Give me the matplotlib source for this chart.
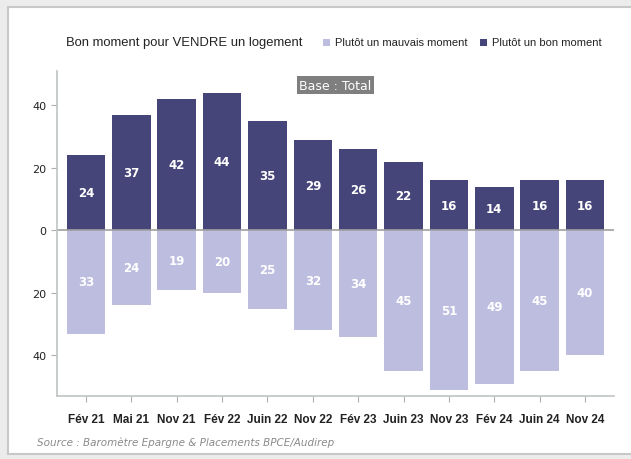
import matplotlib.pyplot as plt
from matplotlib.patches import Rectangle
import numpy as np

# Survey waves and shares (%)
periods = ['Fév 21', 'Mai 21', 'Nov 21', 'Fév 22', 'Juin 22', 'Nov 22',
           'Fév 23', 'Juin 23', 'Nov 23', 'Fév 24', 'Juin 24', 'Nov 24']
bon_moment = [24, 37, 42, 44, 35, 29, 26, 22, 16, 14, 16, 16]
mauvais_moment = [33, 24, 19, 20, 25, 32, 34, 45, 51, 49, 45, 40]

dark = '#45457a'
light = '#bdbde0'

W, H = 631, 460
fig = plt.figure(figsize=(W / 100, H / 100), dpi=100)
fig.patch.set_facecolor('#ececec')

# white card like the screenshot
fig.patches.append(Rectangle((8 / W, 5 / H), 1, (H - 13) / H, transform=fig.transFigure,
                             facecolor='white', edgecolor='#c8c8c8', linewidth=1.5, zorder=-10))

ax = fig.add_axes([57 / W, (H - 397) / H, (614 - 57) / W, (397 - 72) / H])
ax.set_zorder(5)
ax.patch.set_alpha(0)

x = np.arange(len(periods))
ax.bar(x, bon_moment, width=0.85, color=dark)
ax.bar(x, [-v for v in mauvais_moment], width=0.85, color=light)

for i, (b, m) in enumerate(zip(bon_moment, mauvais_moment)):
    ax.text(i, b / 2, str(b), ha='center', va='center', color='white',
            fontsize=8.5, fontweight='bold')
    ax.text(i, -m / 2, str(m), ha='center', va='center', color='white',
            fontsize=8.5, fontweight='bold')

ax.axhline(0, color='#a0a0a0', linewidth=1.2)
ax.set_xlim(-0.64, 11.64)
ax.set_ylim(-53, 51)
ax.set_xticks(x)
ax.set_xticklabels(periods, fontsize=8.5, fontweight='bold', color='#222222',
                   family='Liberation Sans')
ax.set_yticks([-40, -20, 0, 20, 40])
ax.set_yticklabels(['40', '20', '0', '20', '40'], fontsize=8, color='#222222')
ax.tick_params(axis='both', color='#b0b0b0', length=4)
ax.tick_params(axis='x', pad=8)
for s in ['top', 'right']:
    ax.spines[s].set_visible(False)
for s in ['left', 'bottom']:
    ax.spines[s].set_color('#c0c4c4')
    ax.spines[s].set_linewidth(1.2)

# title and legend on one line
fig.text(66 / W, 1 - 43 / H, 'Bon moment pour VENDRE un logement',
         fontsize=9.4, color='#222222', va='center', family='Liberation Sans')
for sx, label, c in [(326, 'Plutôt un mauvais moment', light),
                     (483, 'Plutôt un bon moment', dark)]:
    fig.patches.append(Rectangle(((sx - 3.5) / W, 1 - 46.5 / H), 7 / W, 7 / H,
                                 transform=fig.transFigure, facecolor=c, edgecolor='none'))
    fig.text((sx + 9) / W, 1 - 43 / H, label, fontsize=8, color='#222222',
             va='center', family='Liberation Sans')

ax.text(0.5, 1 - (86 - 72) / (397 - 72), 'Base : Total', transform=ax.transAxes,
        ha='center', va='center', fontsize=9, color='white',
        bbox=dict(boxstyle='square,pad=0.18', facecolor='#7f7f7f', edgecolor='none'))

fig.text(37 / W, 1 - 443 / H, 'Source : Baromètre Epargne & Placements BPCE/Audirep',
         fontsize=7.5, style='italic', color='#8a8a8a', va='center')

plt.savefig('out.png', dpi=100, facecolor=fig.get_facecolor())
